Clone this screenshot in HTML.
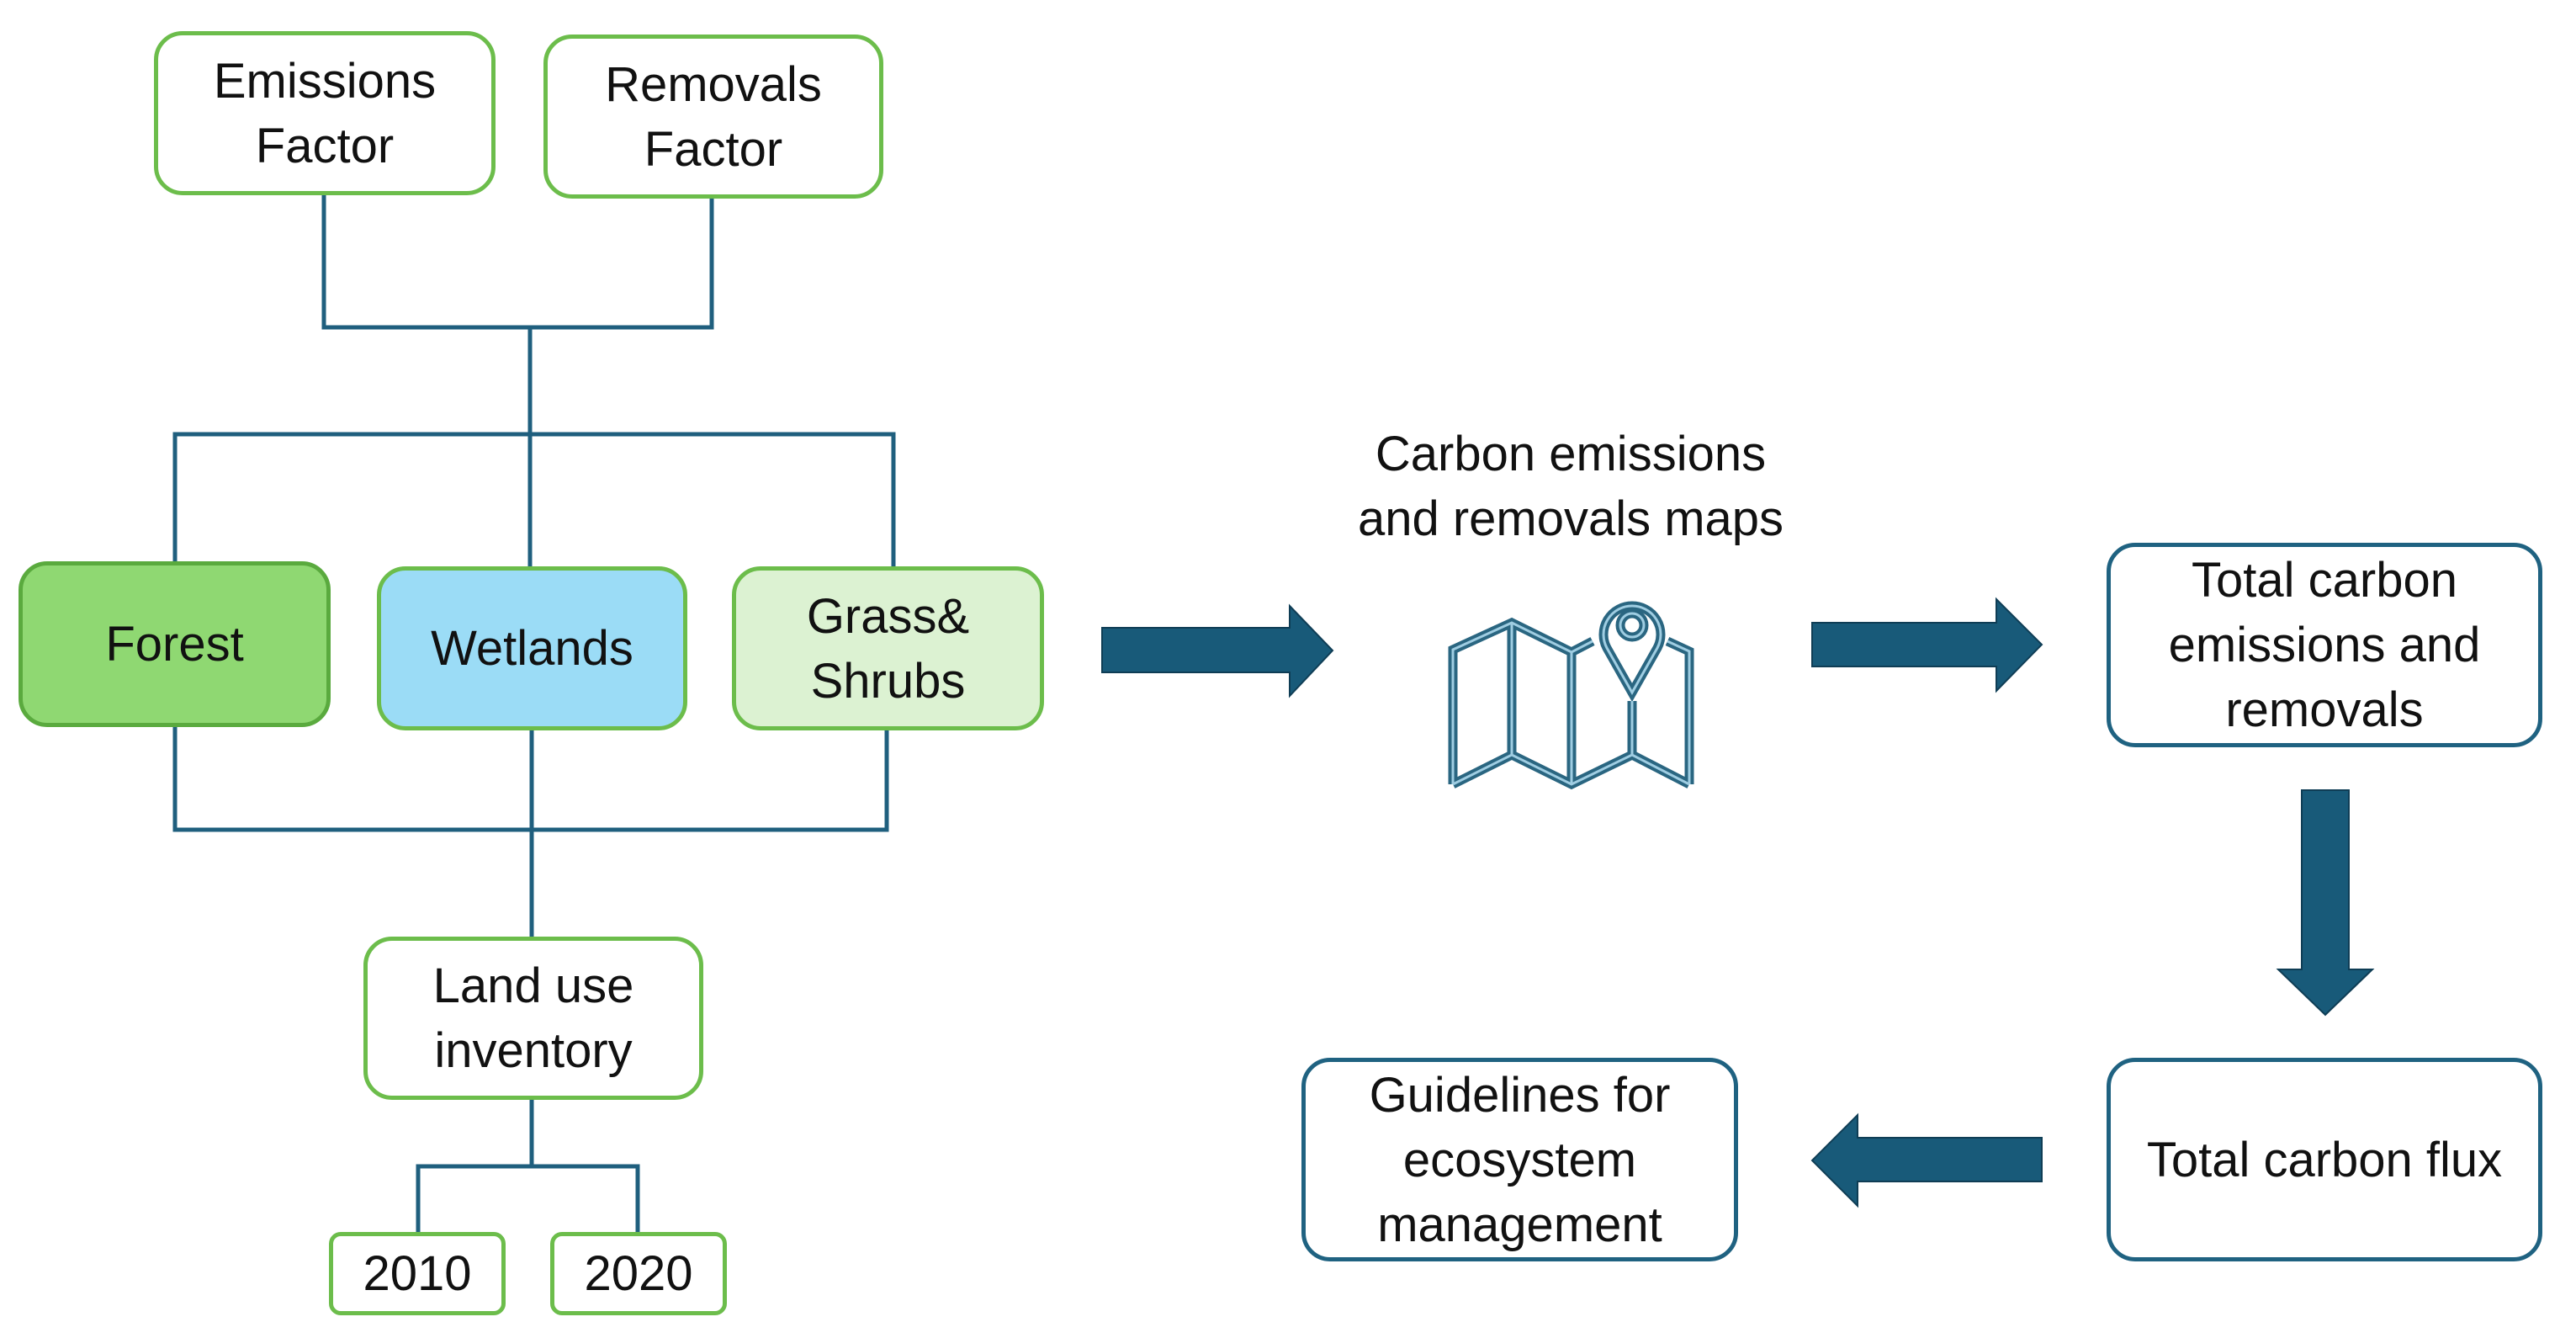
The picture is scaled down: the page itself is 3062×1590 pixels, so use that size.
<!DOCTYPE html>
<html><head><meta charset="utf-8"><style>
html,body{margin:0;padding:0;background:#fff;}
body{width:3062px;height:1590px;position:relative;overflow:hidden;font-family:"Liberation Sans",sans-serif;color:#111;}
.b{position:absolute;box-sizing:border-box;border-radius:34px;display:flex;align-items:center;justify-content:center;text-align:center;font-size:58px;line-height:77px;}
.g{border:5px solid #6cbd4b;background:#fff;}
.t{border:5px solid #1f6281;background:#fff;}
svg{position:absolute;left:0;top:0;}
</style></head><body>
<svg width="3062" height="1590">
<g stroke="#1f5f7e" stroke-width="5" fill="none">
<polyline points="385,232 385,389 846,389 846,236"/>
<line x1="630" y1="389" x2="630" y2="516"/>
<polyline points="208,667 208,516 1062,516 1062,673"/>
<line x1="630" y1="516" x2="630" y2="673"/>
<polyline points="208,864 208,986 1054,986 1054,868"/>
<line x1="632" y1="868" x2="632" y2="1113"/>
<line x1="632" y1="1307" x2="632" y2="1386"/>
<polyline points="497,1464 497,1386 758,1386 758,1464"/>
</g>
<g fill="#185a79" stroke="#0f3d55" stroke-width="2">
<polygon points="1310,746 1533,746 1533,720 1584,773 1533,827 1533,799 1310,799"/>
<polygon points="2154,740 2373,740 2373,712 2427,766 2373,821 2373,792 2154,792"/>
<polygon points="2736,939 2792,939 2792,1152 2820,1152 2764,1206 2708,1152 2736,1152"/>
<polygon points="2427,1352 2208,1352 2208,1325 2154,1379 2208,1433 2208,1404 2427,1404"/>
</g>
<g fill="none" stroke-linejoin="miter">
<g stroke="#2a6681" stroke-width="11">
<polyline points="1727,932 1727,772 1797,740 1868,775 1893,762"/>
<polyline points="1982,762 2008,774 2008,932"/>
<polyline points="1727,932 1797,897 1868,932 1940,897 2008,932"/>
<line x1="1797" y1="740" x2="1797" y2="897"/><line x1="1868" y1="775" x2="1868" y2="932"/>
<line x1="1940" y1="833" x2="1940" y2="897"/>
<path d="M1940,823 L1910,770 A34,34 0 1 1 1970,770 Z"/>
<circle cx="1940" cy="743" r="14"/>
</g>
<g stroke="#9fcde2" stroke-width="3">
<polyline points="1727,932 1727,772 1797,740 1868,775 1893,762"/>
<polyline points="1982,762 2008,774 2008,932"/>
<polyline points="1727,932 1797,897 1868,932 1940,897 2008,932"/>
<line x1="1797" y1="740" x2="1797" y2="897"/><line x1="1868" y1="775" x2="1868" y2="932"/>
<line x1="1940" y1="833" x2="1940" y2="897"/>
<path d="M1940,823 L1910,770 A34,34 0 1 1 1970,770 Z"/>
<circle cx="1940" cy="743" r="14"/>
</g>
</g>
</svg>
<div class="b g" style="left:183px;top:37px;width:406px;height:195px;">Emissions<br>Factor</div>
<div class="b g" style="left:646px;top:41px;width:404px;height:195px;">Removals<br>Factor</div>
<div class="b g" style="left:22px;top:667px;width:371px;height:197px;background:#8fd872;border-color:#5aaa3e;">Forest</div>
<div class="b g" style="left:448px;top:673px;width:369px;height:195px;background:#9bdcf6;">Wetlands</div>
<div class="b g" style="left:870px;top:673px;width:371px;height:195px;background:#dcf2d2;">Grass&amp;<br>Shrubs</div>
<div class="b g" style="left:432px;top:1113px;width:404px;height:194px;">Land use<br>inventory</div>
<div class="b g" style="left:391px;top:1464px;width:210px;height:99px;border-radius:14px;">2010</div>
<div class="b g" style="left:654px;top:1464px;width:210px;height:99px;border-radius:14px;">2020</div>
<div class="b" style="left:1560px;top:498px;width:614px;height:160px;">Carbon emissions<br>and removals maps</div>
<div class="b t" style="left:2504px;top:645px;width:518px;height:243px;">Total carbon<br>emissions and<br>removals</div>
<div class="b t" style="left:2504px;top:1257px;width:518px;height:242px;">Total carbon flux</div>
<div class="b t" style="left:1547px;top:1257px;width:519px;height:242px;">Guidelines for<br>ecosystem<br>management</div>
</body></html>
